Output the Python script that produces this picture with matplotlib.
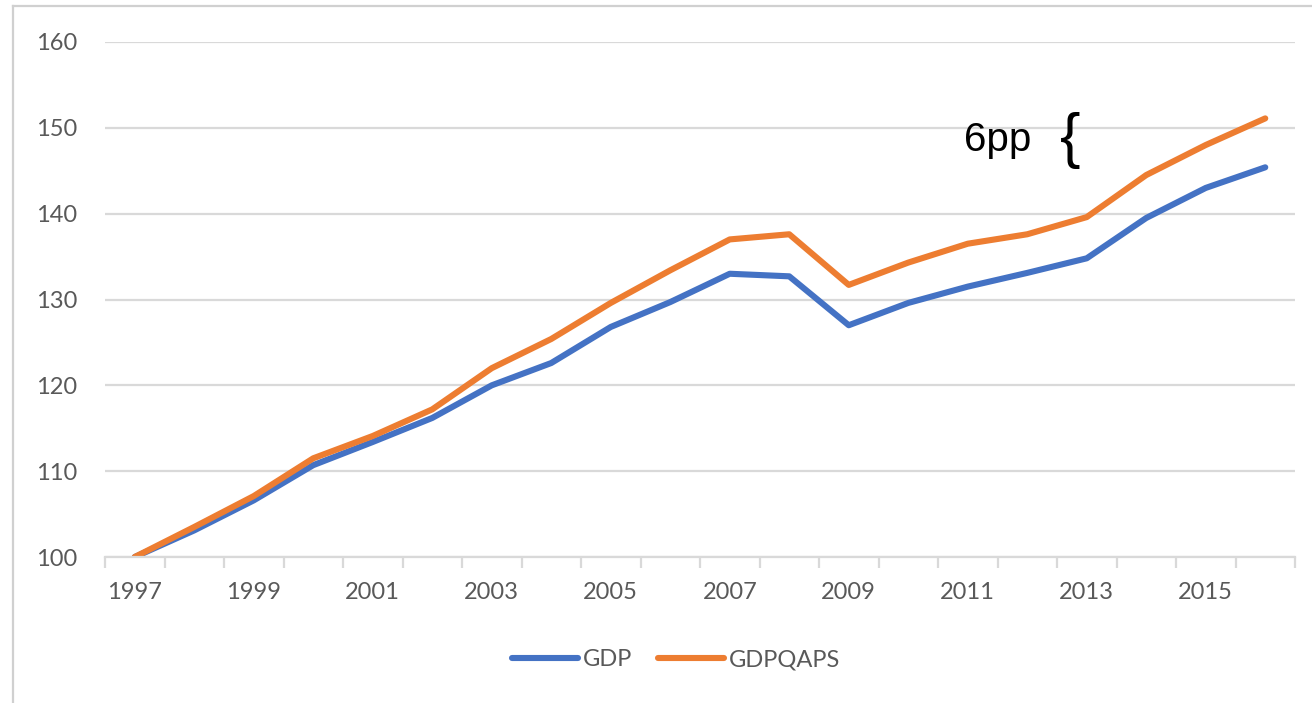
import matplotlib
matplotlib.use('Agg')
import matplotlib.pyplot as plt
from matplotlib.lines import Line2D
from matplotlib.ticker import MultipleLocator
import numpy as np

# Data (index, 1997 = 100)
years = np.arange(1997, 2017)
gdp = [100, 103.1, 106.6, 110.7, 113.4, 116.2, 120.0, 122.6, 126.8, 129.7,
       133.0, 132.7, 127.0, 129.6, 131.5, 133.1, 134.8, 139.5, 143.0, 145.4]
gdpqaps = [100, 103.5, 107.1, 111.5, 114.1, 117.2, 122.0, 125.4, 129.6, 133.4,
           137.0, 137.6, 131.7, 134.3, 136.5, 137.6, 139.6, 144.5, 148.0, 151.1]
year_labels = [str(y) for y in range(1997, 2016, 2)]

blue = '#4472C4'
orange = '#ED7D31'
text_grey = '#595959'
grid_grey = '#D9D9D9'

fig = plt.figure(figsize=(13.12, 7.03), dpi=100)
W, H = 1312, 703
ax = fig.add_axes([105 / W, 1 - 557 / H, (1295 - 105) / W, (557 - 42) / H])

ax.plot(years, gdp, color=blue, lw=4.4, label='GDP', solid_capstyle='round')
ax.plot(years, gdpqaps, color=orange, lw=4.4, label='GDPQAPS', solid_capstyle='round')

ax.set_xlim(1996.5, 2016.5)
ax.set_ylim(100, 160)
ax.yaxis.set_major_locator(MultipleLocator(10))
ax.grid(axis='y', color=grid_grey, lw=1.6)
ax.set_axisbelow(True)

for s in ['top', 'right', 'left']:
    ax.spines[s].set_visible(False)
ax.spines['bottom'].set_color(grid_grey)
ax.spines['bottom'].set_linewidth(1.6)

# category boundaries as minor ticks, labels every other year
ax.set_xticks(np.arange(1996.5, 2017, 1), minor=True)
ax.set_xticks(range(1997, 2016, 2))
ax.set_xticklabels(year_labels)
ax.tick_params(axis='x', which='minor', length=8, width=1.6, color=grid_grey, direction='out')
ax.tick_params(axis='x', which='major', length=0, pad=18)
ax.tick_params(axis='y', length=0, pad=20)
for lab in ax.get_xticklabels() + ax.get_yticklabels():
    lab.set_fontfamily('Lato')
    lab.set_fontsize(17)
    lab.set_color(text_grey)

leg = fig.legend(loc='center', bbox_to_anchor=(676 / W, 1 - 660 / H), ncol=2, frameon=False,
                 handlelength=2.8, handletextpad=0.2, columnspacing=1.1,
                 prop={'family': 'Lato', 'size': 17})
for t in leg.get_texts():
    t.set_color(text_grey)

# annotation
ax.text(2011.5, 147.3, '6pp', fontsize=29, family='Liberation Sans', ha='center',
        va='baseline', color='black')
ax.text(2012.73, 148.5, '{', fontsize=44, family='Liberation Sans',
        ha='center', va='center', color='black')

# chart border
fig.add_artist(Line2D([12.7 / W, 12.7 / W], [0, 1 - 5.7 / H], color='#D0D0D0', lw=1.6))
fig.add_artist(Line2D([12.7 / W, 1], [1 - 5.7 / H, 1 - 5.7 / H], color='#D0D0D0', lw=1.6))

fig.savefig('out.png', dpi=100)
